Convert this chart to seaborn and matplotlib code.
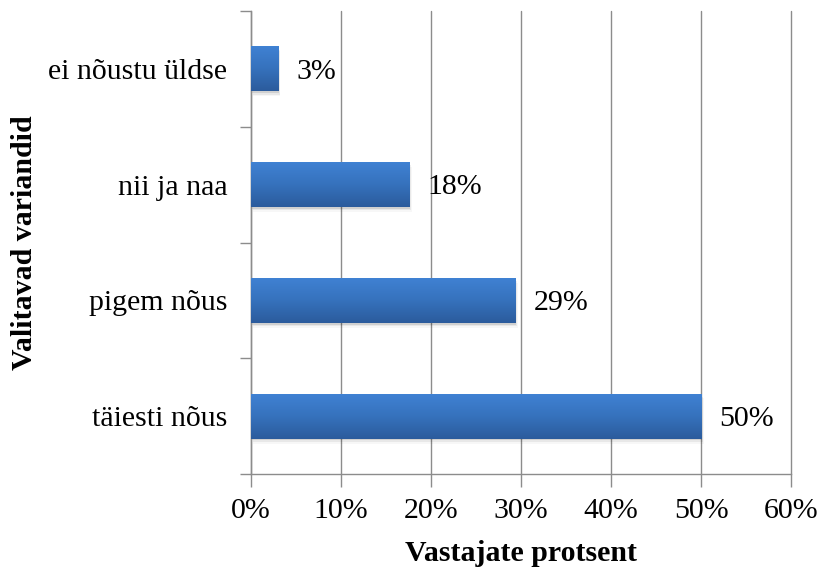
import numpy as np
import pandas as pd
import matplotlib
matplotlib.use("Agg")
import matplotlib.pyplot as plt
import matplotlib.patches as mpatches
import matplotlib.colors as mcolors
import matplotlib.transforms as mtransforms
import seaborn as sns

# Survey answers (top to bottom) and share of respondents, in percent
categories = ["ei nõustu üldse", "nii ja naa", "pigem nõus", "täiesti nõus"]
shares = [3.0, 17.6, 29.4, 50.0]
x_ticks = [0, 10, 20, 30, 40, 50, 60]
x_label = "Vastajate protsent"
y_label = "Valitavad variandid"

df = pd.DataFrame({"variant": categories, "protsent": shares})

sns.set_theme(style="white")
plt.rcParams["font.family"] = ["Liberation Serif", "DejaVu Serif"]
FS = 21.5

fig = plt.figure(figsize=(8.22, 5.67), dpi=100)
ax = fig.add_axes([0.3054, 0.164, 0.657, 0.8166])

sns.barplot(data=df, x="protsent", y="variant", orient="h", color="#3a72bf",
            width=0.39, ax=ax, zorder=3, edgecolor="none")

ax.set_xlim(0, 60)
ax.set_ylim(len(categories) - 0.5, -0.5)

# vertical gridlines
ax.set_xticks(x_ticks)
ax.set_xticklabels([f"{t}%" for t in x_ticks], fontsize=FS)
ax.grid(axis="x", color="#8c8c8c", linewidth=1.0, zorder=0)
ax.grid(axis="y", visible=False)
for gl in ax.get_xgridlines():
    gl.set_clip_on(False)

# category boundaries get the tick marks on the y axis
ax.set_yticks(np.arange(-0.5, len(categories), 1.0), minor=True)
ax.tick_params(axis="y", which="major", length=0, pad=17, labelsize=FS)
ax.tick_params(axis="y", which="minor", length=8, width=1, color="#8c8c8c", left=True)
ax.tick_params(axis="x", which="major", length=9, width=1, color="#8c8c8c", bottom=True, pad=8.5)
for lbl in ax.get_yticklabels() + ax.get_xticklabels():
    lbl.set_color("black")

for side in ["top", "right"]:
    ax.spines[side].set_visible(False)
for side in ["left", "bottom"]:
    ax.spines[side].set_color("#8c8c8c")
    ax.spines[side].set_linewidth(1.0)

ax.set_xlabel(x_label, fontsize=FS, fontweight="bold", labelpad=11, color="black")
ax.set_ylabel(y_label, fontsize=FS, fontweight="bold", labelpad=7.5, color="black")

# shaded bars: soft drop shadow plus a top-to-bottom blue gradient
grad = np.linspace(0, 1, 256).reshape(-1, 1)
cmap = mcolors.LinearSegmentedColormap.from_list("bar", ["#4082d4", "#3672bd", "#2b5b9c"])
label_shift = mtransforms.ScaledTranslation(13 / 72, -2 / 72, fig.dpi_scale_trans)
for patch, val in zip(list(ax.patches), shares):
    x0, y0 = patch.get_x(), patch.get_y()
    w, h = patch.get_width(), patch.get_height()
    for k, a in enumerate([0.10, 0.06, 0.03]):
        sh = mpatches.Rectangle((x0 + 0.09 * (k + 1), y0 + 0.014 * (k + 1)), w, h,
                                facecolor="black", alpha=a, edgecolor="none", zorder=2)
        ax.add_patch(sh)
    im = ax.imshow(grad, cmap=cmap, aspect="auto", extent=(x0, x0 + w, y0 + h, y0),
                   zorder=4, interpolation="bicubic")
    im.set_clip_path(patch)
    ax.text(x0 + w, y0 + h / 2, f"{val:.0f}%", va="center", ha="left", fontsize=FS,
            color="black", zorder=5, transform=ax.transData + label_shift)

ax.set_xlim(0, 60)
ax.set_ylim(len(categories) - 0.5, -0.5)

fig.savefig("out.png", dpi=100, facecolor="white")
